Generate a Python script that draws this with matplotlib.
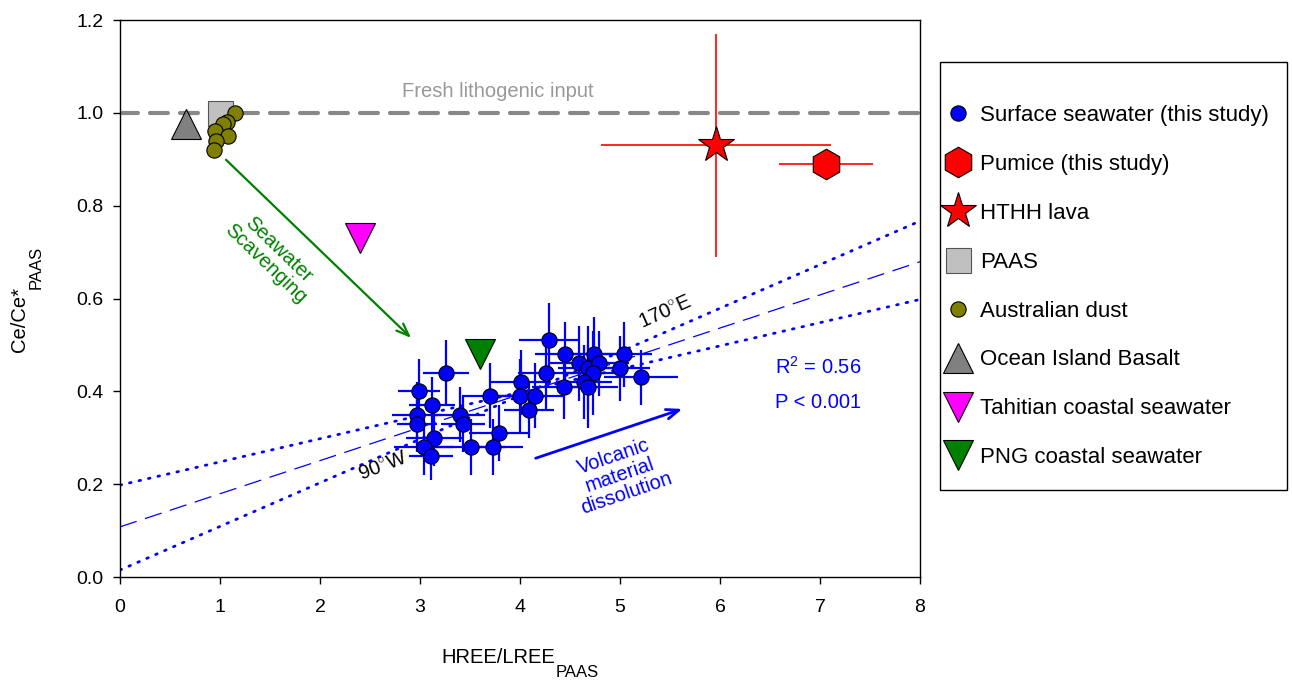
import matplotlib
matplotlib.use("Agg")
import matplotlib.pyplot as plt
import numpy as np
from matplotlib.patches import Rectangle

plt.rcParams['font.family'] = ['Liberation Sans', 'DejaVu Sans']
plt.rcParams['mathtext.fontset'] = 'custom'
plt.rcParams['mathtext.rm'] = 'Liberation Sans'
plt.rcParams['mathtext.it'] = 'Liberation Sans:italic'

# ---------------- data ----------------
sw_x = [3.26, 2.99, 3.12, 2.97, 2.97, 3.40, 3.43, 3.14, 3.04, 3.11, 3.51, 3.73,
        3.79, 3.70, 4.01, 4.00, 4.15, 4.09, 4.29, 4.45, 4.26, 4.44, 4.59, 4.68,
        4.74, 4.79, 4.73, 4.64, 4.68, 5.04, 5.00, 5.21]
sw_y = [0.44, 0.40, 0.37, 0.35, 0.33, 0.35, 0.33, 0.30, 0.28, 0.26, 0.28, 0.28,
        0.31, 0.39, 0.42, 0.39, 0.39, 0.36, 0.51, 0.48, 0.44, 0.41, 0.46, 0.45,
        0.48, 0.46, 0.44, 0.42, 0.41, 0.48, 0.45, 0.43]
sw_xerr = [0.23, 0.21, 0.23, 0.25, 0.20, 0.25, 0.22, 0.28, 0.30, 0.22, 0.35, 0.30,
           0.30, 0.28, 0.30, 0.25, 0.30, 0.25, 0.30, 0.30, 0.28, 0.32, 0.30, 0.30,
           0.32, 0.30, 0.30, 0.28, 0.30, 0.28, 0.30, 0.37]
sw_yerr = [0.07, 0.07, 0.06, 0.07, 0.06, 0.06, 0.06, 0.06, 0.06, 0.05, 0.06, 0.06,
           0.06, 0.07, 0.07, 0.08, 0.07, 0.06, 0.08, 0.07, 0.08, 0.07, 0.08, 0.09,
           0.08, 0.07, 0.09, 0.08, 0.09, 0.07, 0.07, 0.06]

pumice_x, pumice_y, pumice_xerr = [7.06], [0.89], [0.47]
lava_x, lava_y, lava_xerr, lava_yerr = [5.96], [0.93], [1.15], [0.24]
paas_x, paas_y = [1.0], [1.0]
dust_x = [1.15, 1.07, 1.03, 0.95, 1.08, 0.96, 0.94]
dust_y = [1.00, 0.98, 0.975, 0.96, 0.95, 0.94, 0.92]
oib_x, oib_y = [0.66], [0.975]
tahiti_x, tahiti_y = [2.40], [0.73]
png_x, png_y = [3.60], [0.48]

fresh_level = 1.0
# regression line and bounding lines (intercept, slope)
reg_line = (0.108, 0.0714)
line_a = (0.198, 0.050)
line_b = (0.015, 0.094)

legend_labels = ["Surface seawater (this study)", "Pumice (this study)", "HTHH lava",
                 "PAAS", "Australian dust", "Ocean Island Basalt",
                 "Tahitian coastal seawater", "PNG coastal seawater"]

# ---------------- figure ----------------
W, H = 1292, 681
fig = plt.figure(figsize=(W / 100, H / 100), dpi=100)
ax = fig.add_axes([0.0929, 0.1527, 0.6192, 0.8179])


def fx(px):
    return px / W


def fy(py):
    return 1 - py / H


xx = np.array([0.0, 8.0])
ax.plot(xx, [fresh_level, fresh_level], color='#888888', lw=3,
        dashes=(4.3, 2.9), dash_capstyle='round', zorder=1)
ax.plot(xx, reg_line[0] + reg_line[1] * xx, color='blue', lw=0.9, dashes=(14, 7), zorder=1)
for a, b in (line_a, line_b):
    ax.plot(xx, a + b * xx, color='blue', lw=2, linestyle=(0, (0.6, 2.9)),
            dash_capstyle='round', zorder=1)

ax.errorbar(sw_x, sw_y, xerr=sw_xerr, yerr=sw_yerr, fmt='none', ecolor='blue',
            elinewidth=1.6, capsize=0, zorder=2)
ax.errorbar(lava_x, lava_y, xerr=lava_xerr, yerr=lava_yerr, fmt='none', ecolor='red',
            elinewidth=1.2, capsize=0, zorder=2)
ax.errorbar(pumice_x, pumice_y, xerr=pumice_xerr, fmt='none', ecolor='red',
            elinewidth=1.2, capsize=0, zorder=2)

mk = dict(linestyle='none', markeredgecolor='black', markeredgewidth=0.8)
h_sw, = ax.plot(sw_x, sw_y, marker='o', ms=11, color='blue', zorder=4, **mk)
h_pum, = ax.plot(pumice_x, pumice_y, marker='h', ms=22, color='red', zorder=4, **mk)
h_lava, = ax.plot(lava_x, lava_y, marker='*', ms=27, color='red', zorder=4, **mk)
h_paas, = ax.plot(paas_x, paas_y, marker='s', ms=18, color='#c0c0c0',
                  zorder=3, linestyle='none', markeredgecolor='#555555', markeredgewidth=0.8)
h_dust, = ax.plot(dust_x, dust_y, marker='o', ms=11, color='#808000', zorder=4, **mk)
h_oib, = ax.plot(oib_x, oib_y, marker='^', ms=21, color='#808080', zorder=4, **mk)
h_tah, = ax.plot(tahiti_x, tahiti_y, marker='v', ms=21, color='magenta', zorder=4, **mk)
h_png, = ax.plot(png_x, png_y, marker='v', ms=21, color='green', zorder=4, **mk)

# annotations
ax.text(3.78, 1.045, "Fresh lithogenic input", color='#999999', fontsize=14.5,
        ha='center', va='center')
ax.annotate("", xy=(2.93, 0.511), xytext=(1.04, 0.903),
            arrowprops=dict(arrowstyle='->,head_length=0.9,head_width=0.35',
                            color='green', lw=1.6))
ax.text(1.52, 0.69, "Seawater\nScavenging", color='green', fontsize=14.5,
        rotation=-44, ha='center', va='center', rotation_mode='anchor', linespacing=1.05)
ax.annotate("", xy=(5.65, 0.364), xytext=(4.13, 0.254),
            arrowprops=dict(arrowstyle='->,head_length=0.9,head_width=0.35',
                            color='blue', lw=2))
ax.text(5.0, 0.22, "Volcanic\nmaterial\ndissolution", color='blue', fontsize=14.5,
        rotation=19, ha='center', va='center', rotation_mode='anchor', linespacing=1.05)
ax.text(5.45, 0.571, "170$^{\\circ}$E", color='black', fontsize=14.5, rotation=24,
        ha='center', va='center', rotation_mode='anchor')
ax.text(2.63, 0.238, "90$^{\\circ}$W", color='black', fontsize=14.5, rotation=21,
        ha='center', va='center', rotation_mode='anchor')
ax.text(6.55, 0.452, "R$^2$ = 0.56", color='blue', fontsize=14.5, ha='left', va='center')
ax.text(6.55, 0.375, "P < 0.001", color='blue', fontsize=14.5, ha='left', va='center')

ax.set_xlim(0, 8)
ax.set_ylim(0, 1.2)
ax.set_xticks(np.arange(0, 9, 1))
ax.set_yticks(np.arange(0, 1.21, 0.2))
ax.set_yticklabels([f"{v:.1f}" for v in np.arange(0, 1.21, 0.2)])
ax.tick_params(direction='out', length=5, width=1, labelsize=14)
ax.tick_params(axis='x', pad=11)
ax.tick_params(axis='y', pad=7)
for s in ax.spines.values():
    s.set_linewidth(1)

# axis titles with large subscripts
fig.text(fx(555), fy(663), "HREE/LREE", fontsize=14.5, ha='right', va='baseline')
fig.text(fx(556), fy(677), "PAAS", fontsize=12, ha='left', va='baseline')
fig.text(fx(29), fy(352), "Ce/Ce*", fontsize=14.5, rotation=90, ha='right', va='bottom')
fig.text(fx(44), fy(289), "PAAS", fontsize=12, rotation=90, ha='right', va='bottom')

# legend
handles = [h_sw, h_pum, h_lava, h_paas, h_dust, h_oib, h_tah, h_png]
fig.patches.append(Rectangle((fx(940), fy(490)), fx(1287) - fx(940), fy(62) - fy(490),
                             transform=fig.transFigure, facecolor='white',
                             edgecolor='black', lw=1, zorder=0))
leg = fig.legend(handles, legend_labels, loc='upper left',
                 bbox_to_anchor=(fx(947), fy(105)), frameon=False,
                 fontsize=16, labelspacing=1.255,
                 handlelength=1.0, handletextpad=0.5, borderpad=0,
                 borderaxespad=0, numpoints=1)

fig.savefig("out.png", dpi=100)
